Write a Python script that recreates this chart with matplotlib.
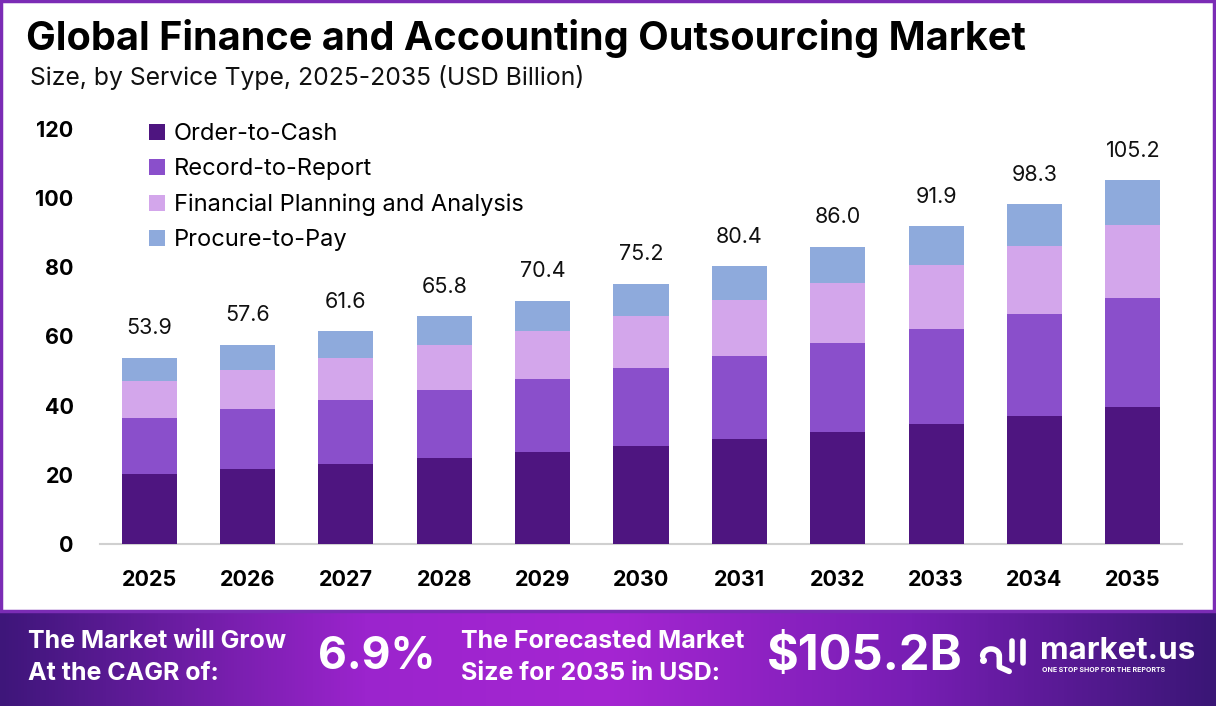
import matplotlib.pyplot as plt
import numpy as np
from matplotlib.patches import Rectangle

years = ["2025", "2026", "2027", "2028", "2029", "2030", "2031", "2032", "2033", "2034", "2035"]
order_to_cash = [20.2, 21.7, 23.1, 24.9, 26.6, 28.3, 30.3, 32.4, 34.7, 37.0, 39.6]
record_to_report = [16.2, 17.3, 18.5, 19.6, 21.1, 22.6, 24.0, 25.7, 27.4, 29.5, 31.5]
fp_and_a = [10.8, 11.3, 12.2, 13.0, 13.9, 15.0, 16.2, 17.3, 18.5, 19.6, 21.1]
procure_to_pay = [6.7, 7.3, 7.8, 8.3, 8.8, 9.3, 9.9, 10.6, 11.3, 12.2, 13.0]
totals = [53.9, 57.6, 61.6, 65.8, 70.4, 75.2, 80.4, 86.0, 91.9, 98.3, 105.2]

series = [
    ("Order-to-Cash", order_to_cash, "#4e1580"),
    ("Record-to-Report", record_to_report, "#8a4fcb"),
    ("Financial Planning and Analysis", fp_and_a, "#d3a6eb"),
    ("Procure-to-Pay", procure_to_pay, "#8eaadc"),
]

plt.rcParams['font.family'] = ['Inter', 'DejaVu Sans']

W, H = 1216, 706
fig = plt.figure(figsize=(W / 100, H / 100), dpi=100)
fig.patch.set_facecolor("white")

# bottom banner with horizontal gradient
bax = fig.add_axes([0, 0, 1, 95 / H])
grad = np.linspace(0, 1, 400)
stops_x = [0.0, 0.3, 0.5, 0.75, 1.0]
stops_c = np.array([[62, 22, 122], [155, 36, 205], [165, 38, 210], [120, 30, 180], [58, 22, 118]]) / 255
img = np.stack([np.interp(grad, stops_x, stops_c[:, i]) for i in range(3)], axis=-1)
img = np.tile(img[None, :, :], (20, 1, 1))
bax.imshow(img, aspect="auto", extent=[0, 1, 0, 1])
bax.set_xlim(0, 1)
bax.set_ylim(0, 1)
bax.axis("off")

# border around the chart area
fig.patches.append(Rectangle((1 / W, 95 / H), 1 - 3 / W, 1 - 96 / H, transform=fig.transFigure,
                             fill=False, edgecolor="#7b2cb5", linewidth=2.5))

ax = fig.add_axes([100 / W, (H - 544) / H, 1082 / W, 415 / H])
x = np.arange(len(years))
bottom = np.zeros(len(years))
for name, vals, color in series:
    ax.bar(x, vals, width=0.56, bottom=bottom, color=color, label=name, zorder=3)
    bottom += np.array(vals)

for xi, total, top in zip(x, totals, bottom):
    ax.annotate(f"{total:.1f}", (xi, top), xytext=(0, 14), textcoords="offset points",
                ha="center", va="bottom", fontsize=15.5, color="#111111")

ax.set_xlim(-0.5, 10.5)
ax.set_ylim(0, 120)
ax.set_yticks(range(0, 121, 20))
ax.set_xticks(x)
ax.set_xticklabels(years, fontsize=15.5, fontweight="bold")
ax.tick_params(axis="y", length=0, pad=19, labelsize=15.5)
ax.tick_params(axis="x", length=0, pad=19)
for lbl in ax.get_yticklabels():
    lbl.set_fontweight("bold")
for s in ["top", "right", "left"]:
    ax.spines[s].set_visible(False)
ax.spines["bottom"].set_color("#d0d0d0")
ax.spines["bottom"].set_linewidth(1.5)

ax.legend(loc="upper left", bbox_to_anchor=(128 / W, (H - 102) / H), bbox_transform=fig.transFigure,
          frameon=False, fontsize=17, handlelength=0.65, handleheight=0.65, handletextpad=0.4,
          labelspacing=0.56)

fig.text(26 / W, 1 - 38 / H, "Global Finance and Accounting Outsourcing Market", fontsize=28.5,
         fontweight="bold", va="center", ha="left", color="black")
fig.text(30 / W, 1 - 78 / H, "Size, by Service Type, 2025-2035 (USD Billion)", fontsize=17.8,
         va="center", ha="left", color="#111111")

# banner texts
fig.text(28 / W, 1 - 642 / H, "The Market will Grow", fontsize=18, fontweight="bold", color="white", va="center")
fig.text(28 / W, 1 - 673 / H, "At the CAGR of:", fontsize=18, fontweight="bold", color="white", va="center")
fig.text(318 / W, 1 - 657 / H, "6.9%", fontsize=32, fontweight="bold", color="white", va="center")
fig.text(461 / W, 1 - 642 / H, "The Forecasted Market", fontsize=18, fontweight="bold", color="white", va="center")
fig.text(461 / W, 1 - 673 / H, "Size for 2035 in USD:", fontsize=18, fontweight="bold", color="white", va="center")
fig.text(767 / W, 1 - 657 / H, "$105.2B", fontsize=35, fontweight="bold", color="white", va="center")
fig.text(1040 / W, 1 - 651 / H, "market.us", fontsize=22.5, fontweight="bold", color="white", va="center")
fig.text(1042 / W, 1 - 670 / H, "ONE STOP SHOP FOR THE REPORTS", fontsize=5, fontweight="bold",
         color="white", va="center")

# simple logo mark
lax = fig.add_axes([978 / W, (H - 678) / H, 52 / W, 44 / H])
lax.set_xlim(0, 10)
lax.set_ylim(0, 10)
lax.axis("off")
t = np.linspace(np.pi, 0, 30)
lax.plot(2.5 + 1.6 * np.cos(t), 5 + 1.6 * np.sin(t), color="white", lw=4, solid_capstyle="round")
lax.plot([4.1, 4.1, 6.0], [5, 2.5, 1.5], color="white", lw=4, solid_capstyle="round")
lax.plot([6.5, 6.5], [4, 8.5], color="white", lw=4, solid_capstyle="round")
lax.plot([8.7, 8.7], [3.5, 8.5], color="white", lw=4, solid_capstyle="round")
lax.plot([0.9], [4], "o", color="white", ms=4)

fig.savefig("out.png", dpi=100)
